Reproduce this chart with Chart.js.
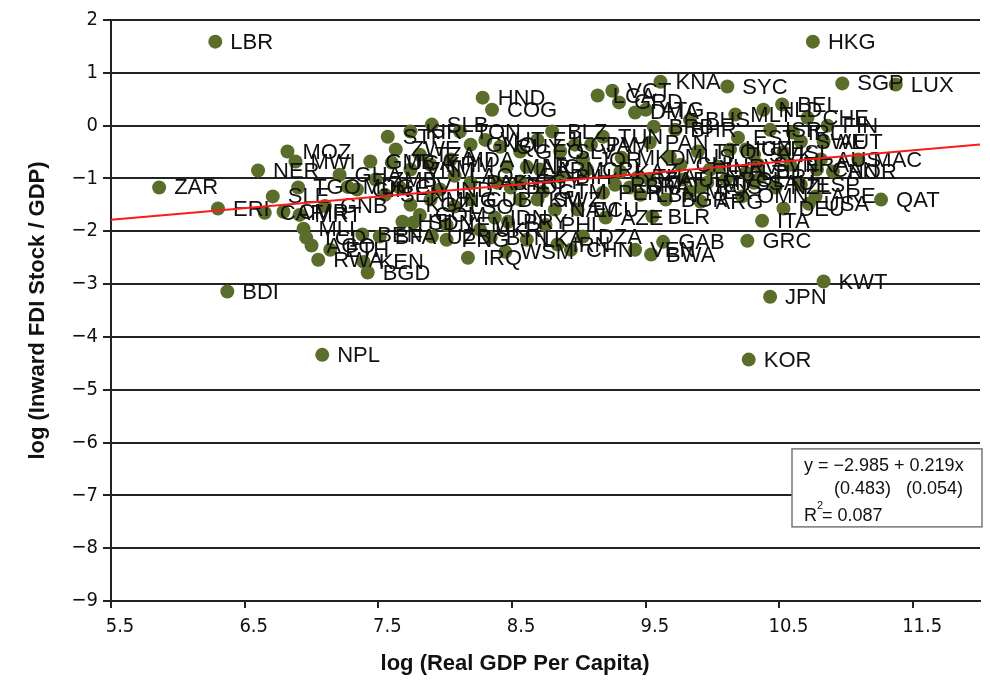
<!DOCTYPE html>
<html>
<head>
<meta charset="utf-8">
<script src="https://cdn.jsdelivr.net/npm/chart.js@4.4.1/dist/chart.umd.min.js"></script>
<style>
  html, body { margin: 0; padding: 0; background: #fff; }
  canvas { display: block; }
</style>
</head>
<body>
<canvas id="chart" width="990" height="685"></canvas>
<script>
// country codes, log real GDP per capita (x), log inward FDI stock / GDP (y)
var countries = ["LBR","HKG","KNA","SYC","SGP","LUX","HND","COG","ZAR","ERI","BDI","NPL","KOR","JPN","KWT","GRC","ITA","QAT","ARE","USA",
  "DEU","OMN","MAC","NOR","BEL","CHE","FIN","MLT","NLD","IRL","SWE","AUT","ISL","SVK","CAN","PRT","AUS","FRA","ESP","NZL",
  "LTU","LVA","CHL","CZE","SVN","ISR","HUN","EST","SAU","POL","RUS","HRV","MYS","URY","MEX","ARG","TTO","MUS","BHS","BHR",
  "PAN","BRB","ATG","DMA","GRD","VCT","LCA","TUN","JAM","MKD","KAZ","ZAF","BRA","THA","LBN","BGR","ROM","PER","CRI","JOR",
  "CPV","SLV","BLZ","FJI","GEO","ARM","BIH","NIC","MAR","EGY","BOL","SYR","VUT","GUY","GNQ","TON","SLB","KIR","KHM","MDA",
  "LAO","PAK","STP","ZWE","VNM","UGA","TZA","GMB","ZMB","SEN","CIV","IND","MNG","GIN","GHA","MDG","LSO","KGZ","HTI","SDN",
  "COM","UZB","YEM","PNG","IRQ","UKR","BTN","CUB","TKM","IDN","PRY","SWZ","GTM","NAM","PHL","LKA","IRN","WSM","DZA","CHN",
  "ECU","AZE","BLR","VEN","BWA","GAB","NER","MOZ","MWI","TGO","SLE","CAF","CMR","MRT","GNB","MLI","TCD","AGO","ETH","RWA",
  "KEN","BGD","BEN","BFA"];
var gdp = [6.28,10.75,9.61,10.11,10.97,11.37,8.28,8.35,5.86,6.30,6.37,7.08,10.27,10.43,10.83,10.26,10.37,11.26,10.77,10.72,
  10.53,10.22,11.09,10.90,10.52,10.71,10.86,10.17,10.38,10.60,10.66,10.83,10.53,10.31,10.78,10.36,10.81,10.58,10.66,10.47,
  10.25,9.98,9.76,10.25,10.34,10.43,10.13,10.19,10.31,10.10,9.91,10.04,9.96,9.78,9.83,9.91,9.89,9.68,9.83,9.72,
  9.53,9.56,9.50,9.42,9.30,9.25,9.14,9.18,9.09,9.32,9.31,9.53,9.38,9.44,9.46,9.65,9.27,9.18,9.06,9.03,
  8.97,8.86,8.80,8.69,8.56,8.71,8.86,8.61,8.46,8.56,8.49,8.39,8.30,8.41,8.19,8.11,7.90,7.74,7.89,8.04,
  8.07,8.19,7.57,7.63,7.74,7.60,7.81,7.44,7.48,7.55,7.66,7.96,7.89,7.34,7.21,7.27,8.07,7.74,7.68,7.76,
  7.81,7.90,8.01,8.01,8.17,8.26,8.34,8.19,8.56,8.37,8.47,8.69,8.73,8.82,8.75,8.61,8.84,8.45,9.03,8.94,
  8.99,9.20,9.55,9.42,9.54,9.63,6.60,6.82,6.88,6.90,6.71,6.65,6.79,6.91,7.10,6.94,6.96,7.00,7.14,7.05,
  7.39,7.42,7.38,7.51];
var fdi = [1.59,1.59,0.83,0.74,0.80,0.78,0.53,0.30,-1.17,-1.57,-3.14,-4.34,-4.43,-3.24,-2.95,-2.18,-1.80,-1.40,-1.34,-1.48,
  -1.57,-1.34,-0.64,-0.87,0.40,0.15,0.00,0.21,0.30,-0.13,-0.30,-0.30,-0.51,-0.55,-0.83,-0.97,-0.64,-0.74,-1.12,-1.17,
  -0.89,-0.83,-0.74,-0.45,-0.74,-0.08,-0.45,-0.23,-1.08,-1.02,-1.17,-0.78,-1.08,-1.02,-1.25,-1.44,-0.49,-0.59,0.11,-0.08,
  -0.32,-0.02,0.30,0.25,0.44,0.66,0.57,-0.21,-0.36,-0.61,-0.87,-1.02,-1.17,-0.98,-1.31,-1.40,-1.12,-1.27,-0.83,-0.64,
  -0.36,-0.49,-0.11,-0.27,-0.49,-0.83,-0.97,-0.78,-0.78,-1.06,-1.17,-1.08,-0.27,-0.40,-0.36,-0.11,0.02,-0.11,-0.74,-0.64,
  -0.95,-1.08,-0.21,-0.45,-0.83,-0.70,-0.55,-0.68,-1.02,-1.31,-1.17,-1.21,-1.40,-1.21,-0.93,-1.16,-1.53,-1.50,-1.82,-1.84,
  -1.69,-2.10,-1.88,-2.16,-2.50,-1.97,-2.12,-1.40,-1.40,-1.74,-1.82,-1.40,-1.25,-1.59,-1.88,-2.16,-2.25,-2.39,-2.10,-2.35,
  -1.59,-1.74,-1.72,-2.35,-2.44,-2.20,-0.85,-0.49,-0.68,-1.17,-1.34,-1.65,-1.63,-1.69,-1.52,-1.95,-2.12,-2.27,-2.35,-2.54,
  -2.58,-2.78,-2.06,-2.10];

// fitted line end points (y = -2.985 + 0.219x)
var fitX = [5.5, 12];
var fitY = [-1.781, -0.357];
var eqLines = ["y = \u22122.985 + 0.219x", "(0.483)   (0.054)", "= 0.087"];

var xTicks = [5.5, 6.5, 7.5, 8.5, 9.5, 10.5, 11.5];
var xTitle = "log (Real GDP Per Capita)";
var yTitle = "log (Inward FDI Stock / GDP)";

var dotColor = "#5a6d2b";
var narrow = "'Liberation Sans Narrow', 'DejaVu Sans Condensed', sans-serif";
var sans = "'Liberation Sans', Arial, sans-serif";

var points = [];
for (var i = 0; i < countries.length; i++) {
  points.push({ x: gdp[i], y: fdi[i], label: countries[i] });
}
var fitLine = [];
for (var j = 0; j < fitX.length; j++) {
  fitLine.push({ x: fitX[j], y: fitY[j] });
}

var labelPlugin = {
  id: "pointLabels",
  afterDatasetDraw: function (chart, args) {
    if (args.index !== 0) return;
    var ctx = chart.ctx;
    var meta = chart.getDatasetMeta(0);
    ctx.save();
    ctx.font = "22px " + sans;
    ctx.fillStyle = "#111";
    ctx.textBaseline = "middle";
    ctx.textAlign = "left";
    meta.data.forEach(function (el, k) {
      ctx.fillText(points[k].label, el.x + 15, el.y + 1);
    });
    ctx.restore();
  },
  afterDraw: function (chart) {
    var ctx = chart.ctx;
    var a = chart.chartArea;
    ctx.save();
    // axis titles
    ctx.fillStyle = "#111";
    ctx.font = "bold 22px " + sans;
    ctx.textAlign = "center";
    ctx.textBaseline = "middle";
    ctx.fillText(xTitle, 515, 664);
    ctx.translate(38, (a.top + a.bottom) / 2);
    ctx.rotate(-Math.PI / 2);
    ctx.fillText(yTitle, 0, 0);
    ctx.restore();

    // regression box
    ctx.save();
    var bx = a.right - 188, by = chart.scales.y.getPixelForValue(-6.12);
    var bw = 190, bh = 78;
    ctx.fillStyle = "#fff";
    ctx.fillRect(bx, by, bw, bh);
    ctx.strokeStyle = "#777";
    ctx.lineWidth = 1.5;
    ctx.strokeRect(bx, by, bw, bh);
    ctx.fillStyle = "#111";
    ctx.font = "18px " + sans;
    ctx.textBaseline = "alphabetic";
    ctx.textAlign = "left";
    ctx.fillText(eqLines[0], bx + 12, by + 22);
    ctx.fillText(eqLines[1], bx + 42, by + 45);
    ctx.fillText("R", bx + 12, by + 72);
    ctx.font = "11px " + sans;
    ctx.fillText("2", bx + 25, by + 60);
    ctx.font = "18px " + sans;
    ctx.fillText(eqLines[2], bx + 30, by + 72);
    ctx.restore();
  }
};

new Chart(document.getElementById("chart"), {
  type: "scatter",
  data: {
    datasets: [{
      data: points,
      pointRadius: 7,
      pointHoverRadius: 7,
      backgroundColor: dotColor,
      borderWidth: 0,
      order: 2
    }, {
      type: "line",
      data: fitLine,
      borderColor: "#ff1a1a",
      borderWidth: 2,
      pointRadius: 0,
      fill: false,
      order: 1
    }]
  },
  options: {
    responsive: false,
    animation: false,
    devicePixelRatio: 1,
    layout: { padding: { left: 0, right: 10, top: 20, bottom: 0 } },
    plugins: {
      legend: { display: false },
      tooltip: { enabled: false }
    },
    scales: {
      x: {
        type: "linear",
        min: 5.5,
        max: 12,
        afterFit: function (s) { s.height = 84; },
        afterBuildTicks: function (s) {
          s.ticks = xTicks.map(function (v) { return { value: v }; });
        },
        grid: { drawOnChartArea: false, drawTicks: true, tickLength: 7, color: "#222", lineWidth: 2 },
        border: { display: true, color: "#222", width: 2 },
        ticks: {
          color: "#111",
          font: { family: narrow, size: 20 },
          padding: 7,
          labelOffset: 9,
          maxRotation: 0,
          callback: function (v) { return v.toFixed(1); }
        }
      },
      y: {
        type: "linear",
        min: -9,
        max: 2,
        afterFit: function (s) { s.width = 111; },
        grid: { color: "#222", lineWidth: 2, drawTicks: true, tickLength: 8 },
        border: { display: true, color: "#222", width: 2 },
        ticks: {
          stepSize: 1,
          color: "#111",
          font: { family: narrow, size: 20 },
          padding: 5,
          callback: function (v) { return v < 0 ? "\u2212" + Math.abs(v) : String(v); }
        }
      }
    }
  },
  plugins: [labelPlugin]
});
</script>
</body>
</html>
